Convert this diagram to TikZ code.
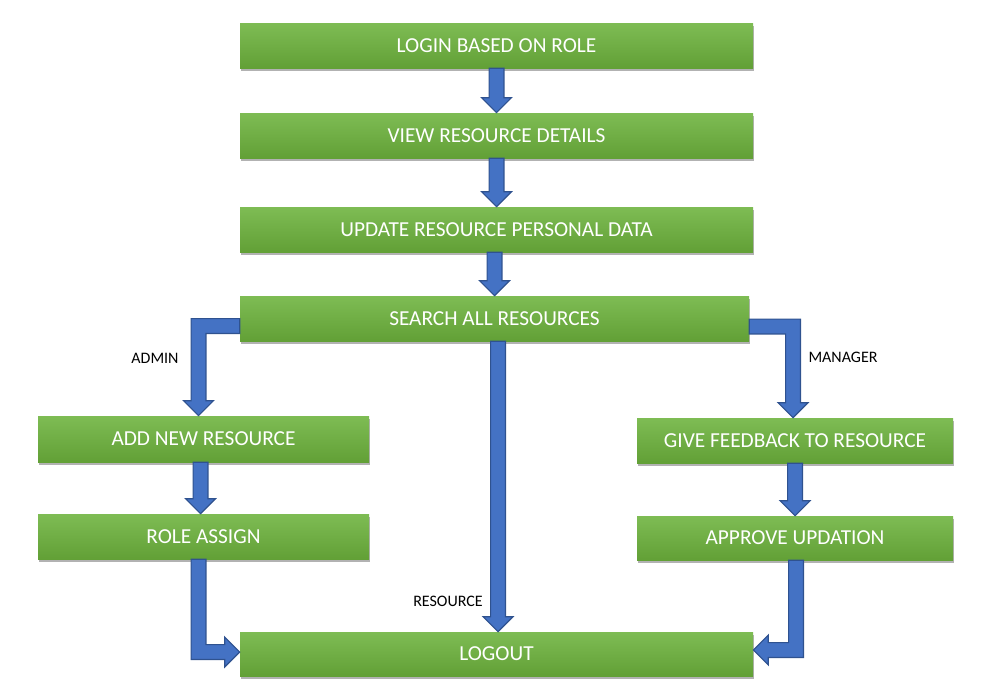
\documentclass[tikz,border=0pt]{standalone}
\usepackage{fontspec}
\setmainfont{Carlito}
\usetikzlibrary{calc,shadows}

\definecolor{boxtop}{RGB}{126,188,84}
\definecolor{boxbottom}{RGB}{98,160,54}
\definecolor{arrowblue}{RGB}{68,114,196}
\definecolor{arrowedge}{RGB}{47,82,143}

\def\px{0.75pt}
\def\sw{5.6pt}
\def\hw{11.25pt}
\def\hl{11.25pt}

\tikzset{
  greenbox/.style={rectangle, inner sep=0pt, draw=none,
    top color=boxtop, bottom color=boxbottom, text=white,
    font=\fontsize{16}{18}\selectfont,
    drop shadow={shadow xshift=0.6pt, shadow yshift=-2pt, opacity=0.3, fill=black}},
  widebox/.style={greenbox, minimum width=513*\px, minimum height=45*\px},
  sidebox/.style={greenbox, minimum height=45*\px},
  blockarrow/.style={fill=arrowblue, draw=arrowedge, line width=0.8pt, line join=miter},
  rolelabel/.style={font=\fontsize{12}{14}\selectfont, text=black, inner sep=0pt}
}

% straight block arrow, bottom of #1 down to top of #2
\newcommand\blockdown[2]{%
  \path[blockarrow] let \p1=(#1), \p2=(#2) in
    (\x2-\sw,\y1) -- (\x2-\sw,\y2+\hl) -- (\x2-\hw,\y2+\hl) -- (\x2,\y2)
    -- (\x2+\hw,\y2+\hl) -- (\x2+\sw,\y2+\hl) -- (\x2+\sw,\y1) -- cycle;}

% side of #1 across, then down to top of #2 (#3: 1 goes left, -1 goes right)
\newcommand\elbowdown[3]{%
  \path[blockarrow] let \p1=(#1), \p2=(#2) in
    (\x1,\y1+\sw) -- ({\x2-(#3)*\sw},\y1+\sw) -- ({\x2-(#3)*\sw},\y2+\hl)
    -- ({\x2-(#3)*\hw},\y2+\hl) -- (\x2,\y2) -- ({\x2+(#3)*\hw},\y2+\hl)
    -- ({\x2+(#3)*\sw},\y2+\hl) -- ({\x2+(#3)*\sw},\y1-\sw) -- (\x1,\y1-\sw) -- cycle;}

% bottom of #1 down, then across into side of #2 (#3: 1 points right, -1 points left)
\newcommand\elbowside[3]{%
  \path[blockarrow] let \p1=(#1), \p2=(#2) in
    ({\x1-(#3)*\sw},\y1) -- ({\x1-(#3)*\sw},\y2-\sw) -- ({\x2-(#3)*\hl},\y2-\sw)
    -- ({\x2-(#3)*\hl},\y2-\hw) -- (\x2,\y2) -- ({\x2-(#3)*\hl},\y2+\hw)
    -- ({\x2-(#3)*\hl},\y2+\sw) -- ({\x1+(#3)*\sw},\y2+\sw) -- ({\x1+(#3)*\sw},\y1) -- cycle;}

\begin{document}
\begin{tikzpicture}[x=0.75pt, y=-0.75pt]

  \useasboundingbox (0,0) rectangle (999,693);

  % main column
  \node[widebox] (login)  at (496.5,45.5)  {LOGIN BASED ON ROLE};
  \node[widebox] (view)   at (496.5,135.5) {VIEW RESOURCE DETAILS};
  \node[widebox] (update) at (496.5,229.5) {UPDATE RESOURCE PERSONAL DATA};
  \node[widebox, minimum width=509*\px] (search) at (494.5,318.5) {SEARCH ALL RESOURCES};
  \node[widebox, minimum height=44*\px] (logout) at (496.5,654) {LOGOUT};

  % admin side
  \node[sidebox, minimum width=331*\px, minimum height=46*\px] (add) at (203.5,439) {ADD NEW RESOURCE};
  \node[sidebox, minimum width=331*\px] (role) at (203.5,536.5) {ROLE ASSIGN};

  % manager side
  \node[sidebox, minimum width=316*\px] (give) at (795,440.5) {GIVE FEEDBACK TO RESOURCE};
  \node[sidebox, minimum width=316*\px, minimum height=44*\px] (approve) at (795,538) {APPROVE UPDATION};

  % labels
  \node[rolelabel] (admin)    at (155,358) {ADMIN};
  \node[rolelabel] (manager)  at (843,357) {MANAGER};
  \node[rolelabel] (resource) at (448,601) {RESOURCE};

  % arrows
  \blockdown{login.south}{view.north}
  \blockdown{view.south}{update.north}
  \blockdown{update.south}{search.north}
  \blockdown{search.south}{$(logout.north)+(1.5,0)$}
  \blockdown{add.south}{$(add.south|-role.north)+(-3,0)$}
  \blockdown{give.south}{approve.north}

  \elbowdown{$(search.west)+(0,7.5)$}{$(add.north)+(-5,0)$}{1}
  \elbowdown{$(search.east)+(0,8)$}{$(give.north)+(-2,0)$}{-1}

  \elbowside{$(role.south)+(-5,0)$}{$(logout.west)+(0,-2)$}{1}
  \elbowside{$(approve.south)+(1,0)$}{$(logout.east)+(0,-4)$}{-1}

\end{tikzpicture}
\end{document}
